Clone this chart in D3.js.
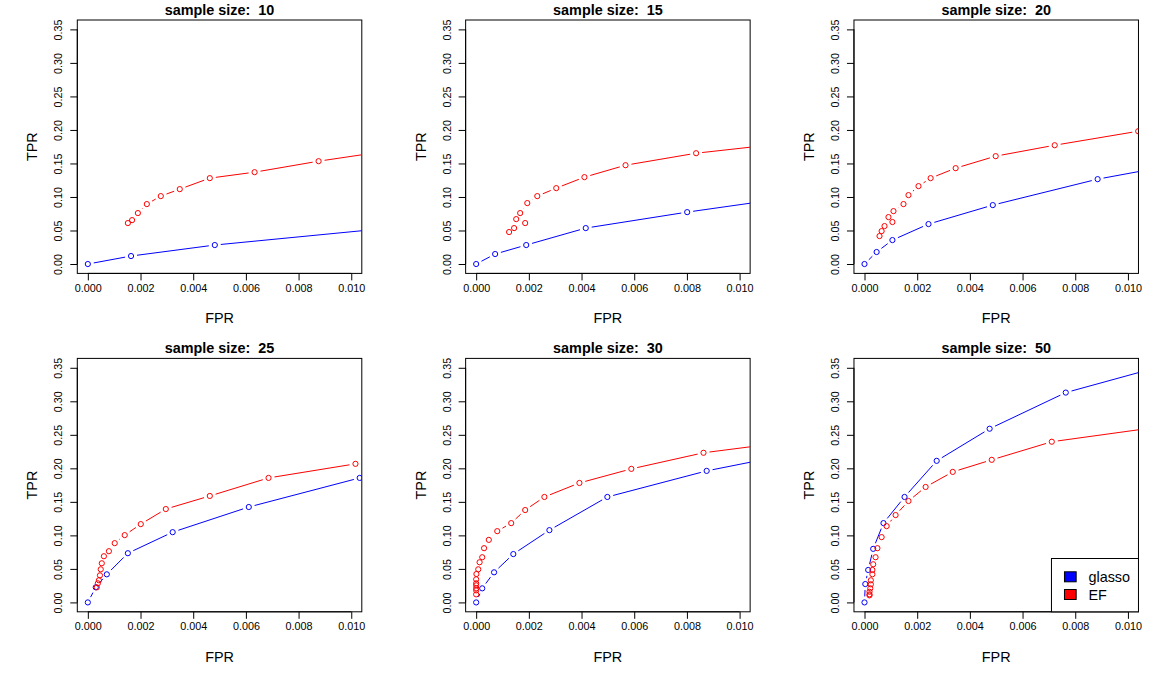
<!DOCTYPE html>
<html><head><meta charset="utf-8">
<script src="https://cdn.jsdelivr.net/npm/d3@7"></script>
<style>body{margin:0;background:#fff;} text{font-family:"Liberation Sans",Arial,sans-serif;}</style>
</head><body>
<script>
// ---- data ----
const sampleSizes = [10, 15, 20, 25, 30, 50];
const xTicks = [0, 0.002, 0.004, 0.006, 0.008, 0.010];
const yTicks = [0, 0.05, 0.10, 0.15, 0.20, 0.25, 0.30, 0.35];
const seriesNames = ["glasso", "EF"];
const seriesColors = ["#0000FF", "#FF0000"];

const glasso_fpr_10 = [0, 0.00164, 0.00482, 0.0130];
const glasso_tpr_10 = [0, 0.0119, 0.0283, 0.0596];
const ef_fpr_10 = [0.00152, 0.00168, 0.00190, 0.00224, 0.00277, 0.00349, 0.00463, 0.00633, 0.00876, 0.0125];
const ef_tpr_10 = [0.0611, 0.0655, 0.0760, 0.0894, 0.1013, 0.1117, 0.1281, 0.1370, 0.1534, 0.1751];

const glasso_fpr_15 = [0, 0.00072, 0.00190, 0.00416, 0.00801, 0.0125];
const glasso_tpr_15 = [0, 0.0149, 0.0283, 0.0536, 0.0774, 0.1024];
const ef_fpr_15 = [0.00125, 0.00144, 0.00186, 0.00152, 0.00167, 0.00194, 0.00232, 0.00304, 0.00411, 0.00567, 0.00835, 0.0125];
const ef_tpr_15 = [0.0477, 0.0536, 0.0611, 0.0670, 0.0760, 0.0909, 0.1013, 0.1132, 0.1296, 0.1474, 0.1653, 0.1834];

const glasso_fpr_20 = [0, 0.00046, 0.00106, 0.00243, 0.00487, 0.00885, 0.0125];
const glasso_tpr_20 = [0, 0.0179, 0.0357, 0.0596, 0.0879, 0.1266, 0.1531];
const ef_fpr_20 = [0.00057, 0.00065, 0.00076, 0.00106, 0.00091, 0.00110, 0.00148, 0.00167, 0.00205, 0.00251, 0.00346, 0.00498, 0.00722, 0.01039, 0.0135];
const ef_tpr_20 = [0.0417, 0.0491, 0.0566, 0.0626, 0.0700, 0.0789, 0.0894, 0.1028, 0.1162, 0.1281, 0.1430, 0.1609, 0.1772, 0.1981, 0.212];

const glasso_fpr_25 = [0, 0.00030, 0.00072, 0.00152, 0.00322, 0.00611, 0.01032, 0.0135];
const glasso_tpr_25 = [0, 0.0225, 0.0419, 0.0734, 0.1048, 0.1423, 0.1857, 0.205];
const ef_fpr_25 = [0.00034, 0.00038, 0.00042, 0.00046, 0.00049, 0.00053, 0.00061, 0.00080, 0.00102, 0.00140, 0.00201, 0.00296, 0.00463, 0.00686, 0.01016, 0.0135];
const ef_tpr_25 = [0.0225, 0.0285, 0.0330, 0.0404, 0.0494, 0.0584, 0.0689, 0.0764, 0.0884, 0.1004, 0.1168, 0.1393, 0.1588, 0.1857, 0.2067, 0.228];

const glasso_fpr_30 = [0, 0.00023, 0.00068, 0.00141, 0.00278, 0.00498, 0.00875, 0.0125];
const glasso_tpr_30 = [0, 0.0210, 0.0449, 0.0721, 0.1078, 0.1573, 0.1962, 0.2255];
const ef_fpr_30 = [0, 0, 0, 0, 0, 0, 0.00001, 0.00008, 0.00013, 0.00023, 0.00030, 0.00048, 0.00080, 0.00133, 0.00186, 0.00259, 0.00392, 0.00589, 0.00863, 0.0125];
const ef_tpr_30 = [0.0120, 0.0180, 0.0210, 0.0255, 0.0285, 0.0345, 0.0424, 0.0494, 0.0599, 0.0674, 0.0809, 0.0933, 0.1063, 0.1183, 0.1378, 0.1573, 0.1782, 0.1992, 0.2232, 0.2427];

const glasso_fpr_50 = [0, 0.00003, 0.00014, 0.00033, 0.00072, 0.00152, 0.00274, 0.00475, 0.00764, 0.0125];
const glasso_tpr_50 = [0, 0.0274, 0.0484, 0.0799, 0.1183, 0.1573, 0.2112, 0.2591, 0.3130, 0.3655];
const ef_fpr_50 = [0.00019, 0.00019, 0.00019, 0.00022, 0.00024, 0.00024, 0.00030, 0.00030, 0.00033, 0.00042, 0.00049, 0.00065, 0.00084, 0.00118, 0.00167, 0.00232, 0.00335, 0.00483, 0.00711, 0.0125];
const ef_tpr_50 = [0.0105, 0.0120, 0.0159, 0.0210, 0.0270, 0.0330, 0.0420, 0.0484, 0.0569, 0.0674, 0.0809, 0.0974, 0.1138, 0.1303, 0.1513, 0.1722, 0.1947, 0.2127, 0.2397, 0.2689];

const panels = [
  {n: 10, g: [glasso_fpr_10, glasso_tpr_10], e: [ef_fpr_10, ef_tpr_10]},
  {n: 15, g: [glasso_fpr_15, glasso_tpr_15], e: [ef_fpr_15, ef_tpr_15]},
  {n: 20, g: [glasso_fpr_20, glasso_tpr_20], e: [ef_fpr_20, ef_tpr_20]},
  {n: 25, g: [glasso_fpr_25, glasso_tpr_25], e: [ef_fpr_25, ef_tpr_25]},
  {n: 30, g: [glasso_fpr_30, glasso_tpr_30], e: [ef_fpr_30, ef_tpr_30]},
  {n: 50, g: [glasso_fpr_50, glasso_tpr_50], e: [ef_fpr_50, ef_tpr_50]},
];

// ---- layout ----
const W = 1165, H = 677;
const colW = W / 3, rowH = 338.4;
const mL = 77.3, mT = 20, bw = 284.5, bh = 253.4;
const gap = 6, rPt = 2.6;

const svg = d3.select("body").append("svg").attr("width", W).attr("height", H);
svg.append("rect").attr("width", W).attr("height", H).attr("fill", "#fff");

panels.forEach((p, i) => {
  const col = i % 3, row = Math.floor(i / 3);
  const x0 = col * colW + mL, y0 = row * rowH + mT;
  const g = svg.append("g").attr("transform", `translate(${x0},${y0})`);
  const x = d3.scaleLinear().domain([-0.0004, 0.0104]).range([0, bw]);
  const y = d3.scaleLinear().domain([-0.014, 0.364]).range([bh, 0]);

  const clipId = "clip" + i;
  g.append("clipPath").attr("id", clipId).append("rect").attr("width", bw).attr("height", bh);

  // axes
  const xa = g.append("g").attr("transform", `translate(0,${bh})`)
    .call(d3.axisBottom(x).tickValues(xTicks).tickFormat(d3.format(".3f")).tickSize(7).tickPadding(4));
  xa.select(".domain").attr("d", `M${x(0)},0H${x(0.010)}`);
  xa.selectAll("text").attr("font-size", "10.8px").attr("font-family", "Liberation Sans, Arial, sans-serif").attr("fill", "#000");
  const ya = g.append("g")
    .call(d3.axisLeft(y).tickValues(yTicks).tickFormat(d3.format(".2f")).tickSize(7));
  ya.select(".domain").attr("d", `M0,${y(0)}V${y(0.35)}`);
  ya.selectAll("text").attr("font-size", "10.8px").attr("font-family", "Liberation Sans, Arial, sans-serif").attr("fill", "#000")
    .attr("x", null).attr("dy", null).attr("text-anchor", "middle")
    .attr("transform", "translate(-19,0) rotate(-90)").attr("dominant-baseline", "central");
  g.selectAll(".tick line").attr("stroke", "#000");

  // box
  g.append("rect").attr("width", bw).attr("height", bh).attr("fill", "none").attr("stroke", "#000").attr("stroke-width", 1);

  // titles
  g.append("text").attr("x", bw / 2).attr("y", -5.3).attr("text-anchor", "middle")
    .attr("font-size", "14.4px").attr("font-weight", "bold").text("sample size:  " + p.n)
    .style("white-space", "pre");
  g.append("text").attr("x", bw / 2).attr("y", bh + 50).attr("text-anchor", "middle")
    .attr("font-size", "14.4px").text("FPR");
  g.append("text").attr("transform", `translate(-40,${bh / 2}) rotate(-90)`).attr("text-anchor", "middle")
    .attr("font-size", "14.4px").text("TPR");

  // series (R type="b": points with gapped segments)
  const plot = g.append("g").attr("clip-path", `url(#${clipId})`);
  [p.g, p.e].forEach((s, k) => {
    const pts = s[0].map((v, j) => [x(v), y(s[1][j])]);
    const segs = [];
    for (let j = 0; j < pts.length - 1; j++) {
      const [ax, ay] = pts[j], [bx, by] = pts[j + 1];
      const dx = bx - ax, dy = by - ay, L = Math.hypot(dx, dy);
      if (L > 2 * gap) {
        const ux = dx / L, uy = dy / L;
        segs.push([ax + ux * gap, ay + uy * gap, bx - ux * gap, by - uy * gap]);
      }
    }
    plot.selectAll(null).data(segs).enter().append("line")
      .attr("x1", d => d[0]).attr("y1", d => d[1]).attr("x2", d => d[2]).attr("y2", d => d[3])
      .attr("stroke", seriesColors[k]).attr("stroke-width", 1);
    plot.selectAll(null).data(pts).enter().append("circle")
      .attr("cx", d => d[0]).attr("cy", d => d[1]).attr("r", rPt)
      .attr("fill", "none").attr("stroke", seriesColors[k]).attr("stroke-width", 1);
  });

  // legend in last panel
  if (i === 5) {
    const lg = g.append("g");
    const lx = bw - 87, ly = bh - 53.3;
    lg.append("rect").attr("x", lx).attr("y", ly).attr("width", 87).attr("height", 53.3)
      .attr("fill", "#fff").attr("stroke", "#000").attr("stroke-width", 1);
    seriesNames.forEach((nm, k) => {
      const cy = ly + 18.3 + k * 17.7;
      lg.append("rect").attr("x", lx + 13).attr("y", cy - 5).attr("width", 11.7).attr("height", 10)
        .attr("fill", seriesColors[k]).attr("stroke", "#000").attr("stroke-width", 1);
      lg.append("text").attr("x", lx + 37).attr("y", cy + 5.4).attr("font-size", "14.4px").text(nm);
    });
  }
});
</script>
</body></html>
